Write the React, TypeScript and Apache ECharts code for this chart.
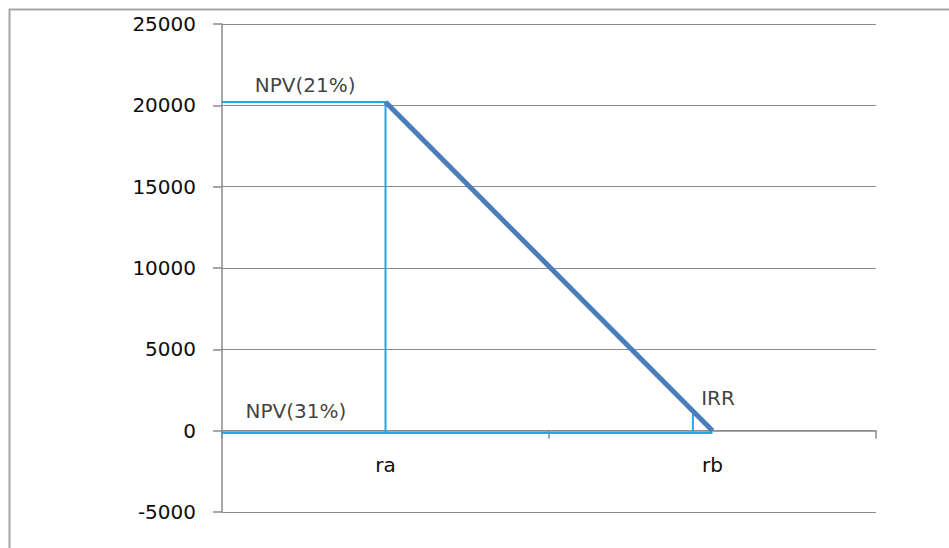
import React, { useEffect, useRef } from "react";
import * as echarts from "echarts";

const categories = ["ra", "rb"];
const npvValues = [20200, 0];
const yTicks = { min: -5000, max: 25000, interval: 5000 };
// helper reference lines (x in category-span units: ra = 0.5, rb = 1.5)
const topGuide: [number, number][] = [[0, 20200], [0.5, 20200], [0.5, -150]];
const bottomGuide: [number, number][] = [[0, -150], [1.5, -150]];
const irrGuide: [number, number][] = [[1.44, -150], [1.44, 1050]];
const annotations = [
  { name: "NPV(21%)", value: [0.254, 21230] },
  { name: "NPV(31%)", value: [0.226, 1230] },
  { name: "IRR", value: [1.517, 2020] },
];

export default function App() {
  const ref = useRef<HTMLDivElement>(null);
  useEffect(() => {
    if (!ref.current) return;
    const chart = echarts.init(ref.current, undefined, { renderer: "svg" });
    const font = "DejaVu Sans";
    const textColor = "#0d0d0d";
    const guideColor = "#1ea8ea";
    const guideStyle = { color: guideColor, width: 2 };
    chart.setOption({
      animation: false,
      backgroundColor: "#ffffff",
      textStyle: { fontFamily: font },
      grid: { left: 222, top: 24, width: 654, height: 488, containLabel: false },
      graphic: [
        {
          type: "rect",
          shape: { x: 9.5, y: 9.5, width: 1000, height: 600 },
          style: { fill: "none", stroke: "#a6a6a6", lineWidth: 2 },
          silent: true,
          z: -10,
        },
      ],
      xAxis: [
        {
          type: "category",
          data: categories,
          boundaryGap: true,
          axisLine: { show: true, onZero: true, lineStyle: { color: "#8a8a8a", width: 1.5 } },
          axisTick: { show: true, length: 8, inside: false, lineStyle: { color: "#8a8a8a", width: 1.5 } },
          axisLabel: { margin: -57, fontSize: 20, color: textColor, fontFamily: font },
          splitLine: { show: false },
        },
        {
          type: "value",
          min: 0,
          max: 2,
          show: false,
        },
      ],
      yAxis: {
        type: "value",
        min: yTicks.min,
        max: yTicks.max,
        interval: yTicks.interval,
        axisLine: { show: true, lineStyle: { color: "#8a8a8a", width: 1.5 } },
        axisTick: { show: true, length: 9, lineStyle: { color: "#8a8a8a", width: 1.5 } },
        axisLabel: {
          margin: 26,
          fontSize: 20,
          color: textColor,
          fontFamily: font,
          formatter: (v: number) => String(v),
        },
        splitLine: { show: true, lineStyle: { color: "#8c8c8c", width: 1.2 } },
      },
      series: [
        {
          type: "line",
          xAxisIndex: 1,
          data: topGuide,
          symbol: "none",
          lineStyle: guideStyle,
          z: 3,
        },
        {
          type: "line",
          xAxisIndex: 1,
          data: bottomGuide,
          symbol: "none",
          lineStyle: guideStyle,
          z: 3,
        },
        {
          type: "line",
          xAxisIndex: 1,
          data: irrGuide,
          symbol: "none",
          lineStyle: guideStyle,
          z: 3,
        },
        {
          type: "line",
          xAxisIndex: 0,
          data: npvValues,
          symbol: "none",
          lineStyle: { color: "#4a7ebb", width: 5 },
          z: 5,
        },
        {
          type: "scatter",
          xAxisIndex: 1,
          data: annotations,
          symbolSize: 0,
          label: {
            show: true,
            position: "inside",
            formatter: "{b}",
            fontSize: 20,
            color: textColor,
            fontFamily: font,
          },
          z: 6,
        },
      ],
    });
    return () => chart.dispose();
  }, []);
  return (
    <div
      ref={ref}
      style={{ position: "absolute", left: 0, top: 0, width: 949, height: 548 }}
    />
  );
}
